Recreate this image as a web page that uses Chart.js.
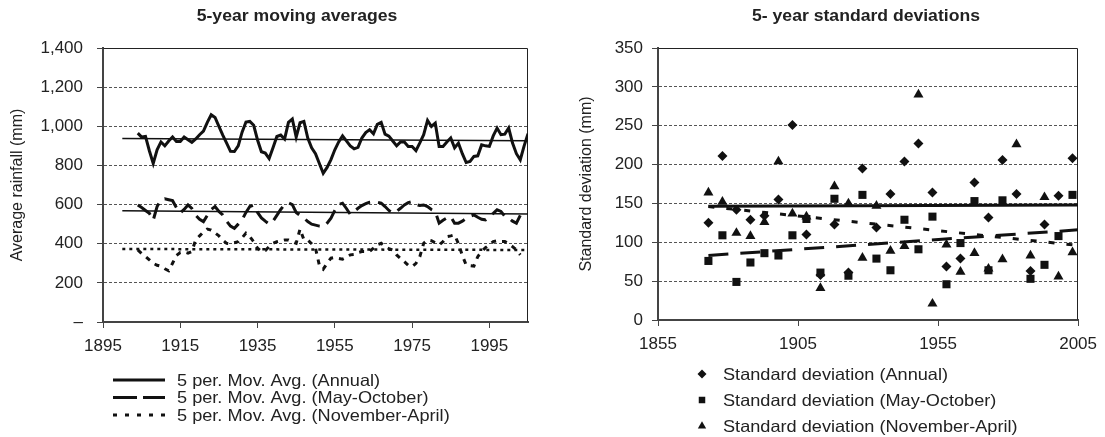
<!DOCTYPE html>
<html>
<head>
<meta charset="utf-8">
<title>Rainfall: moving averages and standard deviations</title>
<script src="https://cdn.jsdelivr.net/npm/chart.js@4.4.1/dist/chart.umd.min.js"></script>
<style>
  html, body { margin: 0; padding: 0; background: #fff; }
  #wrap { position: relative; width: 1105px; height: 437px; }
  .panel { position: absolute; top: 0; height: 437px; }
  #left { left: 0; width: 552px; }
  #right { left: 552px; width: 553px; }
</style>
</head>
<body>
<div id="wrap">
  <div class="panel" id="left"><canvas id="maChart" width="552" height="437"></canvas></div>
  <div class="panel" id="right"><canvas id="sdChart" width="553" height="437"></canvas></div>
</div>
<script>
// ---- 5-year moving averages of rainfall (mm), one value per year ----
const maStartYear = 1904;
const annualMA = [
  965, 945, 948, 875, 810, 880, 920, 900, 925, 945,
  922, 922, 945, 931, 918, 935, 957, 975, 1020, 1059,
  1045, 1000, 955, 914, 872, 871, 900, 970, 1022, 1025,
  1005, 930, 870, 863, 835, 890, 948, 955, 935, 1020,
  1037, 945, 1018, 1025, 940, 890, 860, 810, 760, 790,
  830, 880, 920, 951, 925, 900, 885, 892, 940, 968,
  982, 962, 1010, 1020, 960, 950, 925, 900, 920, 920,
  897, 897, 876, 915, 957, 1030, 999, 1016, 897, 897,
  920, 940, 890, 914, 860, 815, 820, 846, 849, 905,
  900, 897, 951, 991, 957, 960, 991, 914, 860, 829,
  900, 962
];
const mayOctMA = [
  598, 585, 570, 555, 520, 590, 625, 630, 625, 620,
  585, 557, 575, 598, 580, 545, 525, 513, 545, 575,
  590, 565, 547, 515, 490, 479, 500, 522, 560, 590,
  598, 560, 532, 515, 500, 515, 545, 575, 600, 609,
  600, 560, 545, 532, 513, 500, 495, 490, 487, 505,
  530, 570, 600, 607, 580, 550, 565, 581, 595, 605,
  612, 615, 612, 607, 590, 570, 556, 565, 581, 598,
  610, 615, 600, 595, 598, 590, 575, 564, 505, 520,
  532, 539, 505, 505, 515, 530, 540, 547, 535, 525,
  522, 540, 555, 573, 565, 540, 532, 515, 505, 545
];
const novAprMA = [
  368, 350, 335, 318, 300, 290, 285, 272, 262, 300,
  340, 355, 358, 352, 360, 420, 440, 460, 475, 470,
  455, 440, 419, 402, 400, 405, 410, 430, 454, 436,
  410, 377, 360, 365, 385, 402, 410, 415, 419, 419,
  410, 402, 475, 420, 419, 400, 377, 290, 270, 300,
  326, 330, 325, 321, 330, 343, 345, 355, 360, 360,
  360, 377, 395, 402, 385, 375, 368, 343, 325, 308,
  290, 283, 300, 334, 402, 419, 415, 405, 394, 410,
  436, 440, 445, 400, 340, 291, 288, 286, 334, 360,
  380, 394, 411, 415, 411, 411, 400, 385, 368, 343
];

// linear trends over the raw series (start / end)
const trendYears = [1900, 2005];
const annualTrend = [938, 926];
const mayOctTrend = [568, 552];
const novAprTrend = [373, 368];

const maYearTicks = [1895, 1915, 1935, 1955, 1975, 1995];

// ---- 5-year standard deviations (mm), one value per 5-year window ----
const sdYears = [
  1873, 1878, 1883, 1888, 1893, 1898, 1903, 1908, 1913, 1918,
  1923, 1928, 1933, 1938, 1943, 1948, 1953, 1958, 1963, 1968,
  1973, 1978, 1983, 1988, 1993, 1998, 2003
];
const sdAnnual = [
  125, 211, 142, 129, 134, 155, 251, 110, 58, 123,
  61, 195, 119, 162, 204, 227, 164, 69, 79, 177,
  132, 206, 162, 63, 123, 160, 208
];
const sdMayOct = [
  76, 109, 49, 74, 86, 83, 109, 130, 61, 156,
  57, 161, 79, 64, 129, 91, 133, 46, 99, 153,
  64, 154, null, 53, 71, 108, 161
];
const sdNovApr = [
  164, 152, 112, 108, 126, 204, 137, 133, 41, 172,
  150, 80, 147, 89, 95, 290, 21, 97, 62, 86,
  66, 78, 226, 83, 158, 56, 87
];

const sdTrendYears = [1873, 2005];
const sdAnnualTrend = [146.5, 148];
const sdMayOctTrend = [83, 116];
const sdNovAprTrend = [146, 96];

const sdYearTicks = [1855, 1905, 1955, 2005];

// ---- styling ----
const ink = '#111';
const textInk = '#222';
const axisInk = '#444';
const gridInk = '#555';
const fontFamily = '"Liberation Sans", Arial, Helvetica, sans-serif';
const tickFont = { size: 17 };
const textStretch = 1.1;

Chart.defaults.font.family = fontFamily;
Chart.defaults.color = textInk;

function yearPoints(start, values) {
  return values.map((v, i) => ({ x: start + i, y: v }));
}
function pairPoints(xs, ys) {
  return xs.map((x, i) => ({ x: x, y: ys[i] }));
}

// outline of the plot area (top and right edges)
const plotFrame = {
  id: 'plotFrame',
  beforeDatasetsDraw(chart) {
    const { ctx, chartArea: a } = chart;
    ctx.save();
    ctx.strokeStyle = '#222';
    ctx.lineWidth = 1;
    const l = Math.round(a.left) + 0.5, r = Math.round(a.right) - 0.5;
    const t = Math.round(a.top) + 0.5, b = Math.round(a.bottom) - 0.5;
    ctx.beginPath();
    ctx.moveTo(l, t);
    ctx.lineTo(r, t);
    ctx.lineTo(r, b);
    ctx.stroke();
    ctx.restore();
  }
};

// slightly wide text; x is the anchor given by the current textAlign
function wideText(ctx, text, x, y, stretch) {
  ctx.save();
  ctx.translate(x, y);
  ctx.scale(stretch, 1);
  ctx.fillText(text, 0, 0);
  ctx.restore();
}

// heading above the plot and a one-column legend below it
const panelText = {
  id: 'panelText',
  afterDraw(chart, args, opts) {
    const ctx = chart.ctx;
    ctx.save();
    ctx.fillStyle = textInk;
    ctx.font = 'bold 16px ' + fontFamily;
    ctx.textAlign = 'center';
    ctx.textBaseline = 'middle';
    wideText(ctx, opts.title, opts.titleX, opts.titleY, textStretch);

    ctx.font = '16.5px ' + fontFamily;
    ctx.textAlign = 'left';
    let row = 0;
    chart.data.datasets.forEach(ds => {
      if (!ds.inLegend) return;
      const y = opts.legendY + row * opts.legendGap;
      const x = opts.legendX;
      if (ds.showLine) {
        ctx.save();
        ctx.strokeStyle = ds.borderColor;
        ctx.lineWidth = ds.borderWidth;
        ctx.setLineDash(ds.legendDash || ds.borderDash || []);
        ctx.beginPath();
        ctx.moveTo(x, y);
        ctx.lineTo(x + opts.sampleWidth, y);
        ctx.stroke();
        ctx.restore();
      } else {
        ctx.save();
        ctx.fillStyle = ds.backgroundColor;
        ctx.strokeStyle = ds.backgroundColor;
        Chart.helpers.drawPoint(ctx, {
          pointStyle: ds.pointStyle,
          radius: ds.legendRadius,
          rotation: 0,
          borderWidth: 0
        }, x + opts.sampleWidth / 2, y);
        ctx.restore();
      }
      ctx.fillStyle = textInk;
      wideText(ctx, ds.label, x + opts.textOffset, y + 1, textStretch);
      row++;
    });
    ctx.restore();
  }
};

function lineSet(label, points, width, dash, inLegend, legendDash) {
  return {
    label: label,
    data: points,
    showLine: true,
    borderColor: ink,
    backgroundColor: ink,
    borderWidth: width,
    borderDash: dash,
    legendDash: legendDash,
    pointRadius: 0,
    tension: 0,
    inLegend: inLegend
  };
}

function markerSet(label, xs, ys, style, radius, legendRadius) {
  return {
    label: label,
    data: pairPoints(xs, ys),
    showLine: false,
    pointStyle: style,
    pointRadius: radius,
    pointBackgroundColor: ink,
    pointBorderWidth: 0,
    backgroundColor: ink,
    legendRadius: legendRadius,
    inLegend: true
  };
}

const commonOptions = {
  responsive: false,
  animation: false,
  events: []
};

// ---- left panel: moving averages ----
new Chart(document.getElementById('maChart'), {
  type: 'scatter',
  data: {
    datasets: [
      lineSet('5 per. Mov. Avg. (Annual)', yearPoints(maStartYear, annualMA), 3, [], true),
      lineSet('5 per. Mov. Avg. (May-October)', yearPoints(maStartYear, mayOctMA), 3, [16, 8], true, [24, 6]),
      lineSet('5 per. Mov. Avg. (November-April)', yearPoints(maStartYear, novAprMA), 3, [5, 6], true, [4, 8]),
      lineSet('Linear (Annual)', pairPoints(trendYears, annualTrend), 1.5, [], false),
      lineSet('Linear (May-October)', pairPoints(trendYears, mayOctTrend), 1.5, [], false),
      lineSet('Linear (November-April)', pairPoints(trendYears, novAprTrend), 2.5, [3, 4], false)
    ]
  },
  options: {
    ...commonOptions,
    layout: { padding: { top: 48, right: 24, bottom: 75, left: 0 } },
    plugins: {
      legend: { display: false },
      tooltip: { enabled: false },
      panelText: {
        title: '5-year moving averages',
        titleX: 297, titleY: 17,
        legendX: 113, legendY: 380, legendGap: 17.5,
        sampleWidth: 52, textOffset: 64
      }
    },
    scales: {
      x: {
        type: 'linear',
        min: 1895,
        max: 2005,
        afterFit: s => { s.height = 40; },
        afterBuildTicks: s => { s.ticks = maYearTicks.map(v => ({ value: v })); },
        ticks: { autoSkip: false, maxRotation: 0, padding: 8, font: tickFont, callback: v => String(v) },
        grid: { drawOnChartArea: false, tickLength: 6, tickColor: axisInk },
        border: { color: axisInk, width: 2 }
      },
      y: {
        min: 0,
        max: 1400,
        afterFit: s => { s.width = 103; },
        ticks: {
          stepSize: 200,
          padding: 14,
          font: tickFont,
          callback: v => v === 0 ? '–' : v.toLocaleString('en-US')
        },
        grid: { color: gridInk, lineWidth: 1, tickLength: 6, tickColor: axisInk },
        border: { color: axisInk, width: 2, dash: [3, 2] },
        title: {
          display: true,
          text: 'Average rainfall (mm)',
          font: { size: 16 },
          color: textInk,
          padding: { top: 8, bottom: 0 }
        }
      }
    }
  },
  plugins: [plotFrame, panelText]
});

// ---- right panel: standard deviations ----
new Chart(document.getElementById('sdChart'), {
  type: 'scatter',
  data: {
    datasets: [
      markerSet('Standard deviation (Annual)', sdYears, sdAnnual, 'rectRot', 5, 4.5),
      markerSet('Standard deviation (May-October)', sdYears, sdMayOct, 'rect', 5.7, 4.6),
      markerSet('Standard deviation (November-April)', sdYears, sdNovApr, 'triangle', 5.8, 4.8),
      lineSet('Linear (Annual)', pairPoints(sdTrendYears, sdAnnualTrend), 3, [], false),
      lineSet('Linear (May-October)', pairPoints(sdTrendYears, sdMayOctTrend), 3, [20, 12], false),
      lineSet('Linear (November-April)', pairPoints(sdTrendYears, sdNovAprTrend), 3, [6, 12], false)
    ]
  },
  options: {
    ...commonOptions,
    layout: { padding: { top: 48, right: 23, bottom: 77, left: 0 } },
    plugins: {
      legend: { display: false },
      tooltip: { enabled: false },
      panelText: {
        title: '5- year standard deviations',
        titleX: 314, titleY: 17,
        legendX: 145, legendY: 374, legendGap: 26,
        sampleWidth: 10, textOffset: 26
      }
    },
    scales: {
      x: {
        type: 'linear',
        min: 1855,
        max: 2005,
        afterFit: s => { s.height = 40; },
        afterBuildTicks: s => { s.ticks = sdYearTicks.map(v => ({ value: v })); },
        ticks: { autoSkip: false, maxRotation: 0, padding: 8, font: tickFont, callback: v => String(v) },
        grid: { drawOnChartArea: false, tickLength: 6, tickColor: axisInk },
        border: { color: axisInk, width: 2 }
      },
      y: {
        min: 0,
        max: 350,
        afterFit: s => { s.width = 106; },
        ticks: { stepSize: 50, padding: 9, font: tickFont },
        grid: { color: gridInk, lineWidth: 1, tickLength: 6, tickColor: axisInk },
        border: { color: axisInk, width: 2, dash: [3, 2] },
        title: {
          display: true,
          text: 'Standard deviation (mm)',
          font: { size: 16 },
          color: textInk,
          padding: { top: 25, bottom: 0 }
        }
      }
    }
  },
  plugins: [plotFrame, panelText]
});
</script>
</body>
</html>
